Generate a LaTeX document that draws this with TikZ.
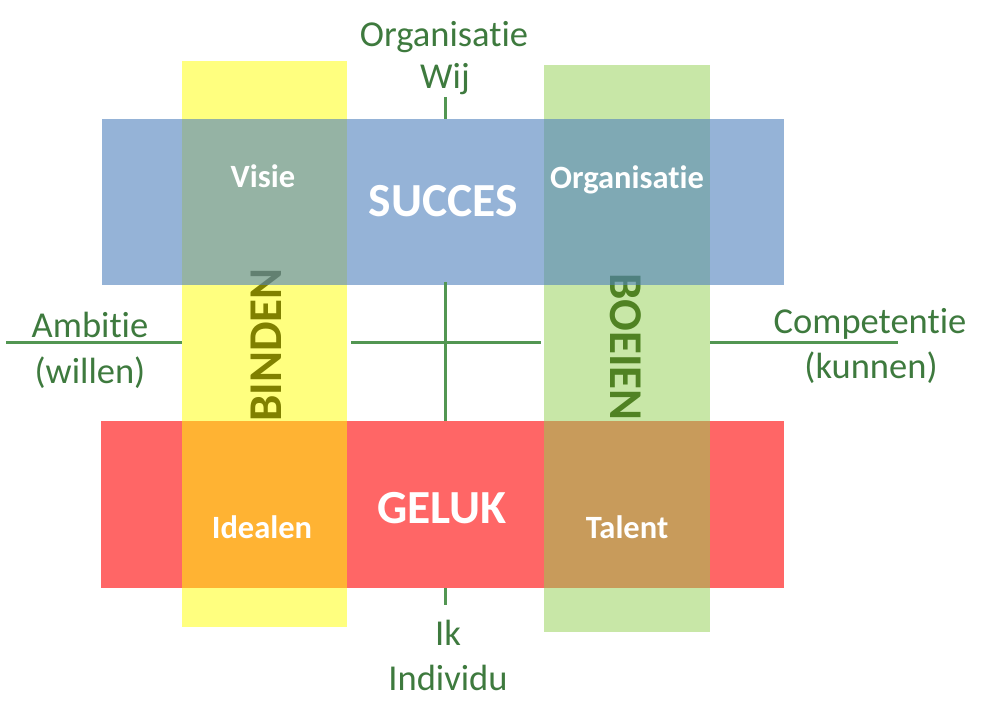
\documentclass[tikz,border=0pt]{standalone}
\usepackage{fontspec}
\setmainfont{Carlito}[Ligatures=NoCommon]
\definecolor{barblue}{HTML}{4F81BD}
\definecolor{barred}{HTML}{FF0000}
\definecolor{colyellow}{HTML}{FFFF00}
\definecolor{colgreen}{HTML}{92D050}
\definecolor{axisgreen}{RGB}{82,150,82}
\definecolor{labelgreen}{RGB}{62,122,62}
\definecolor{bindenolive}{RGB}{128,128,0}
\definecolor{boeiengreen}{RGB}{80,130,35}
\begin{document}
\begin{tikzpicture}[x=1pt, y=-1pt]
    \tikzset{block/.style = {rectangle, inner sep=0pt, draw=none},
             axisline/.style = {draw=axisgreen, line width=3pt},
             axislabel/.style = {text=labelgreen, font=\fontsize{36.5}{43}\selectfont, anchor=base, inner sep=0pt},
             cell/.style = {text=white, font=\fontsize{32.5}{38}\selectfont\bfseries, anchor=base, inner sep=0pt},
             bigword/.style = {text=white, font=\fontsize{47.5}{56}\selectfont\bfseries, anchor=base, inner sep=0pt},
             sideword/.style = {font=\fontsize{47}{55}\selectfont\bfseries, inner sep=0pt}}

    \useasboundingbox (0,0) rectangle (990,722);

    % bars and columns
    \node[block, fill=barred, fill opacity=0.6, minimum width=683pt, minimum height=167pt] (geluk) at (442.5,504.5) {};
    \node[block, fill=colyellow, fill opacity=0.5, minimum width=165pt, minimum height=566pt] (bindencol) at (264.5,344) {};
    \node[block, fill=colgreen, fill opacity=0.5, minimum width=166pt, minimum height=567pt] (boeiencol) at (627,348.5) {};

    \node[sideword, text=bindenolive, rotate=90] (binden) at (266,345) {BINDEN};
    \node[sideword, text=boeiengreen, rotate=-90] (boeien) at (626,347) {BOEIEN};

    \node[block, fill=barblue, fill opacity=0.6, minimum width=682pt, minimum height=166pt] (succes) at (443,202) {};

    % words in the cells
    \node[cell] (visie) at (263,188) {Visie};
    \node[cell] (organisatie) at (627,189) {Organisatie};
    \node[cell] (idealen) at (262,538) {Idealen};
    \node[cell] (talent) at (627,538) {Talent};
    \node[bigword] (succesword) at (443,216) {SUCCES};
    \node[bigword] (gelukword) at (442,523) {GELUK};

    % axes
    \coordinate (topend) at (445,97);
    \coordinate (botend) at (445,605);
    \coordinate (leftend) at (6,342);
    \coordinate (rightend) at (898,342);
    \coordinate (mid) at (445,342);

    \draw[axisline] (topend) -- (succes.north -| topend);
    \draw[axisline] ([yshift=3pt]succes.south -| topend) -- (geluk.north -| topend);
    \draw[axisline] (geluk.south -| topend) -- (botend);
    \draw[axisline] (leftend) -- (bindencol.west |- leftend);
    \draw[axisline] ([xshift=4pt]bindencol.east |- mid) -- ([xshift=-3pt]boeiencol.west |- mid);
    \draw[axisline] (boeiencol.east |- rightend) -- (rightend);

    % axis labels
    \node[axislabel] (orglabel) at (444,47) {Organisatie};
    \node[axislabel] (wij) at (445,89) {Wij};
    \node[axislabel] (ik) at (448,645) {Ik};
    \node[axislabel] (individu) at (448,690) {Individu};
    \node[axislabel] (ambitie) at (90,337) {Ambitie};
    \node[axislabel] (willen) at (90,383) {(willen)};
    \node[axislabel] (competentie) at (870,333) {Competentie};
    \node[axislabel] (kunnen) at (871,378) {(kunnen)};
\end{tikzpicture}
\end{document}
